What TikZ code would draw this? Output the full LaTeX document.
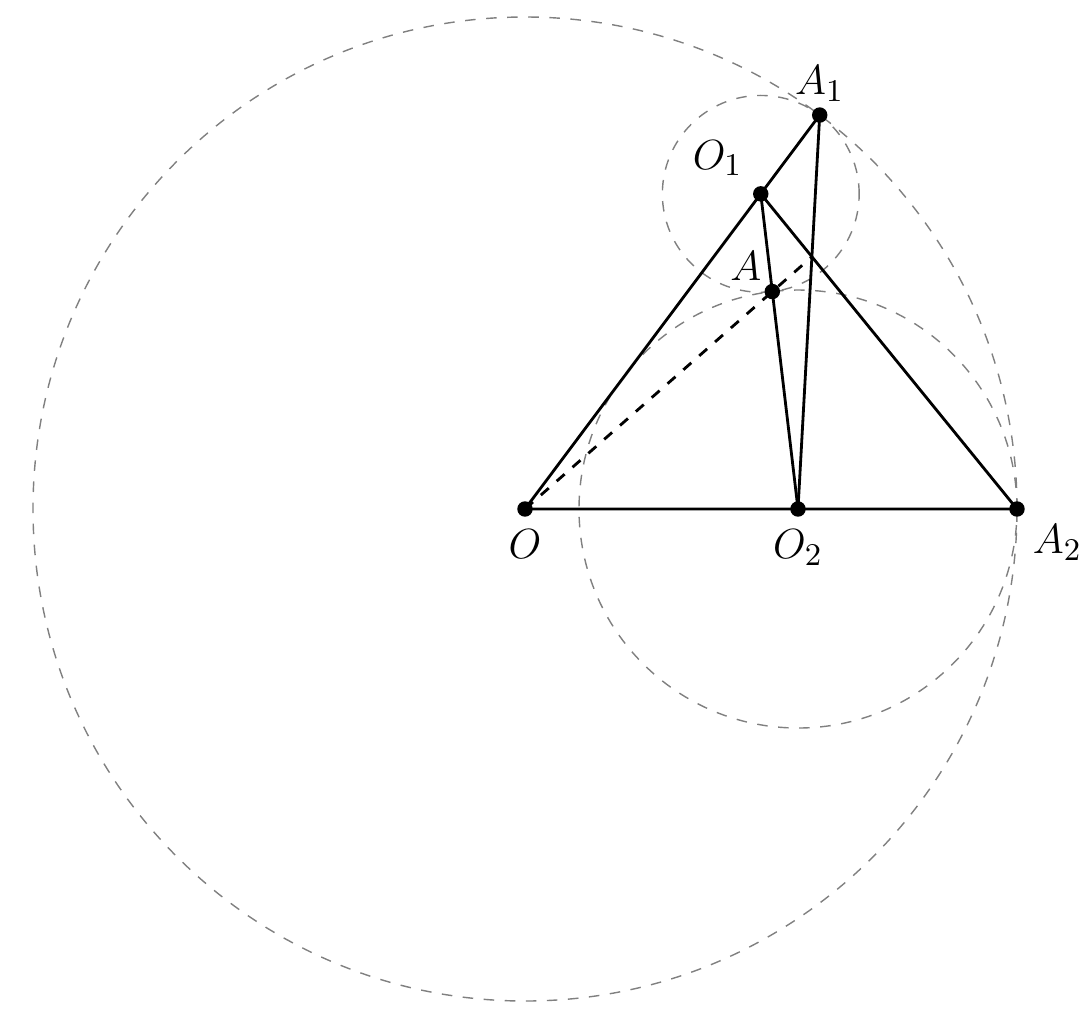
\documentclass[tikz,border=0pt]{standalone}
\usetikzlibrary{calc}
\begin{document}
\begin{tikzpicture}[scale=1,
    circ/.style={gray,dashed,thin},
    seg/.style={thick},
    pt/.style={circle,fill=black,inner sep=0pt,minimum size=4.4pt},
    every label/.style={font=\fontsize{13}{15}\selectfont}]
    \useasboundingbox (-5.25,-5.03) rectangle (5.61,5.09);
    \coordinate (O) at (0,0);
    \coordinate (O2) at (2.73,0);
    \coordinate (A2) at (4.92,0);
    \coordinate (O1) at (53.2:3.936);
    \coordinate (A1) at (53.2:4.92);
    \coordinate (A) at ($(O1)!0.31!(O2)$);%切点
    \coordinate (P) at (intersection of O1--A2 and A1--O2);
    \draw[circ] (O) circle (4.92);
    \draw[circ] (O1) circle (0.984);
    \draw[circ] (O2) circle (2.19);
    \draw[seg] (O) -- (A1) -- (O2);
    \draw[seg] (O) -- (A2) -- (O1) -- (O2);
    \draw[seg,dashed] (O) -- (P);%经过A
    \node[pt,label=below:{$O$}] (o) at (O) {};
    \node[pt,label=below:{$O_2$}] (o2) at (O2) {};
    \node[pt,label={[label distance=-1pt]below right:{$A_2$}}] (a2) at (A2) {};
    \node[pt,label={[label distance=-2pt]above:{$A_1$}}] (a1) at (A1) {};
    \node[pt,label={[label distance=0pt]above left:{$O_1$}}] (o1) at (O1) {};
    \node[pt,label={[label distance=-3pt]above left:{$A$}}] (a) at (A) {};
\end{tikzpicture}
\end{document}
